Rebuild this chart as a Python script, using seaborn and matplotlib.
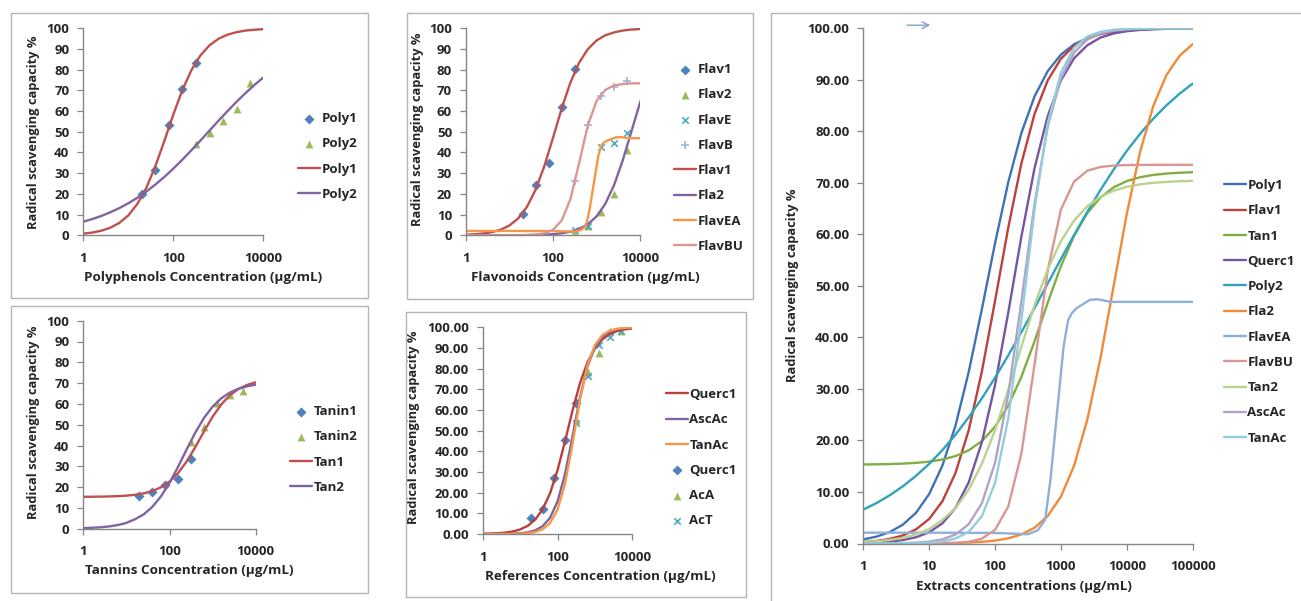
import numpy as np
import pandas as pd
import seaborn as sns
import matplotlib.pyplot as plt
from matplotlib.patches import Rectangle
from matplotlib.ticker import FixedLocator, NullLocator, StrMethodFormatter

sns.set_theme(style="white")
plt.rcParams['font.family'] = ['Open Sans', 'DejaVu Sans']
plt.rcParams['font.weight'] = 'bold'
plt.rcParams['text.color'] = '#262626'

# ---- fitted curves (concentration in ug/mL) ----
conc = [1, 1.585, 2.512, 3.981, 6.31, 10, 15.85, 25.12, 39.81, 63.1, 100, 158.5, 251.2,
        398.1, 631, 1000, 1585, 2512, 3981, 6310, 10000, 15850, 25120, 39810, 63100, 100000]
poly1_fit = [0.80, 1.33, 2.21, 3.65, 5.96, 9.60, 15.1, 22.9, 33.3, 45.5, 58.3, 70.1, 79.7,
             86.8, 91.7, 94.9, 96.9, 98.1, 98.9, 99.3, 99.6, 99.75, 99.85, 99.9, 99.95, 99.97]
flav1_fit = [0.28, 0.50, 0.88, 1.56, 2.74, 4.77, 8.18, 13.7, 22.0, 33.4, 47.1, 61.3, 73.8,
             83.4, 89.9, 94.1, 96.6, 98.0, 98.9, 99.4, 99.65, 99.8, 99.9, 99.94, 99.97, 99.98]
tan1_fit = [15.34, 15.37, 15.42, 15.51, 15.65, 15.89, 16.30, 16.97, 18.09, 19.88, 22.66, 26.76, 32.37,
            39.27, 46.75, 53.84, 59.73, 64.14, 67.16, 69.13, 70.35, 71.09, 71.54, 71.81, 71.97, 72.06]
querc1_fit = [0.11, 0.20, 0.37, 0.67, 1.21, 2.18, 3.91, 6.89, 11.86, 19.67, 30.8, 44.8, 59.6,
              72.9, 83.0, 89.9, 94.2, 96.7, 98.2, 99.0, 99.44, 99.69, 99.83, 99.9, 99.95, 99.97]
poly2_fit = [6.58, 7.85, 9.35, 11.10, 13.13, 15.46, 18.12, 21.13, 24.49, 28.18, 32.20, 36.50, 41.03,
             45.71, 50.48, 55.23, 59.88, 64.37, 68.62, 72.58, 76.21, 79.50, 82.44, 85.03, 87.30, 89.27]
fla2_fit = [0.0, 0.0, 0.01, 0.01, 0.02, 0.03, 0.06, 0.10, 0.18, 0.32, 0.56, 1.00, 1.75,
            3.07, 5.34, 9.11, 15.13, 24.03, 35.99, 50.0, 64.01, 75.95, 84.87, 90.89, 94.66, 96.93]
flavbu_fit = [0.0, 0.0, 0.0, 0.0, 0.0, 0.01, 0.04, 0.12, 0.33, 0.94, 2.66, 7.17, 17.47,
              34.80, 53.05, 64.83, 70.25, 72.34, 73.09, 73.36, 73.45, 73.48, 73.5, 73.5, 73.5, 73.5]
tan2_fit = [0.27, 0.43, 0.69, 1.10, 1.76, 2.80, 4.56, 6.86, 10.46, 15.47, 22.00, 29.81, 38.20,
            46.26, 53.23, 58.70, 62.69, 65.45, 67.29, 68.47, 69.23, 69.71, 70.01, 70.19, 70.31, 70.38]
ascac_fit = [0.01, 0.02, 0.04, 0.08, 0.17, 0.37, 0.80, 1.74, 3.74, 7.83, 15.67, 28.90, 47.06,
             66.05, 80.97, 90.30, 95.32, 97.81, 98.98, 99.53, 99.79, 99.9, 99.96, 99.98, 99.99, 100.0]
tanac_fit = [0.0, 0.01, 0.01, 0.03, 0.07, 0.17, 0.40, 0.96, 2.27, 5.28, 11.79, 24.28, 43.48,
             64.85, 81.57, 91.39, 96.22, 98.39, 99.32, 99.72, 99.88, 99.95, 99.98, 99.99, 100.0, 100.0]
# FlavEA has a very steep step, read on its own points
conc_ea = [1, 10, 100, 200, 316, 447, 575, 692, 871, 1096, 1288, 1479, 1738, 2754, 3631, 5623, 10000, 100000]
flavea_fit = [2.1, 2.1, 2.05, 1.9, 1.8, 2.6, 4.6, 12.3, 25.3, 38.2, 43.4, 44.8, 45.7, 47.3, 47.4, 46.9, 46.9, 46.9]

# ---- measured points ----
conc_low = [20, 40, 80, 160, 320]
conc_high = [320, 640, 1280, 2560, 5120]
poly1_pts = [19.8, 31.4, 53.5, 70.5, 83.1]
poly2_pts = [44.1, 49.6, 55.4, 61.2, 73.8]
flav1_pts = [10.5, 24.3, 35.1, 61.8, 80.2]
flav2_pts = [1.0, 4.5, 11.4, 19.8, 41.2]
flave_pts = [2.6, 4.5, 42.8, 44.8, 49.6]
flavb_pts = [26.0, 53.3, 67.3, 71.5, 74.7]
tanin1_pts = [15.7, 17.5, 21.0, 23.9, 33.7]
tanin2_pts = [41.5, 49.0, 60.3, 64.3, 66.2]
querc1_pts = [7.6, 12.1, 27.3, 45.5, 63.5]
aca_pts = [55.0, 78.5, 87.7, 98.2, 98.2]
act_pts = [53.9, 76.5, 91.5, 95.5, 98.4]

W, H = 1301, 601
FS = 9.5
GREY = '#868686'

fig = plt.figure(figsize=(W / 100, H / 100), dpi=100)


def px_axes(x0, y0, x1, y1):
    return fig.add_axes([x0 / W, 1 - y1 / H, (x1 - x0) / W, (y1 - y0) / H])


def frame(x0, y0, x1, y1):
    fig.add_artist(Rectangle((x0 / W, 1 - y1 / H), (x1 - x0) / W, (y1 - y0) / H,
                             transform=fig.transFigure, fill=False, ec='#B4B4B4', lw=1.0))


def style(ax, xticks, ylabels_fmt, xlabel, xl_pos, yl_pos):
    ax.set_xscale('log')
    ax.set_xlim(xticks[0], xticks[-1])
    ax.set_ylim(0, 100)
    ax.xaxis.set_major_locator(FixedLocator(xticks))
    ax.xaxis.set_minor_locator(NullLocator())
    ax.set_xticklabels([str(t) for t in xticks])
    ax.set_yticks(range(0, 101, 10))
    ax.yaxis.set_major_formatter(StrMethodFormatter(ylabels_fmt))
    for s in ['top', 'right']:
        ax.spines[s].set_visible(False)
    for s in ['left', 'bottom']:
        ax.spines[s].set_color(GREY)
        ax.spines[s].set_linewidth(1.0)
    ax.tick_params(axis='both', which='major', direction='out', length=4, width=0.9,
                   color=GREY, labelsize=FS, labelcolor='#262626', pad=6, bottom=True, left=True)
    ax.tick_params(axis='x', pad=8)
    for lab in ax.get_xticklabels() + ax.get_yticklabels():
        lab.set_fontweight('bold')
    ax.set_xlabel(xlabel, fontsize=9.7, fontweight='bold')
    ax.set_ylabel('Radical scavenging capacity %', fontsize=9.3, fontweight='bold')
    ax.xaxis.set_label_coords(*xl_pos)
    ax.yaxis.set_label_coords(*yl_pos)
    ax.xaxis.label.set_va('center')
    ax.yaxis.label.set_va('center')
    ax.patch.set_alpha(0)


def curve(ax, x, y, color, label):
    sns.lineplot(x=x, y=y, ax=ax, color=color, lw=1.7, sort=False, estimator=None, label=label)


def points(ax, x, y, marker, color, label, s=26):
    if marker in ('x', '+'):
        sns.scatterplot(x=x, y=y, ax=ax, marker=marker, color=color, s=s, linewidth=1.2, label=label)
    else:
        sns.scatterplot(x=x, y=y, ax=ax, marker=marker, color=color, s=s, linewidth=0, label=label)


def legend(ax, lx, ty):
    ax.legend(loc='upper left', bbox_to_anchor=(lx / W, 1 - ty / H), bbox_transform=fig.transFigure,
              frameon=False, borderpad=0, borderaxespad=0, handlelength=1.65, handletextpad=0.12,
              labelspacing=0.93, prop={'weight': 'bold', 'size': FS})


BLUE_M, GREEN_M, CYAN_M, PLUS_M = '#4F81BD', '#9BBB59', '#4BACC6', '#9DB4DD'
RED, PURPLE, ORANGE, PINK = '#C0504D', '#8064A2', '#F79646', '#D99694'

x4 = [1, 100, 10000]

# ---- panel A: polyphenols ----
frame(11, 13, 368, 298)
axA = px_axes(83.3, 28.3, 263.3, 235.3)
style(axA, x4, '{x:.0f}', 'Polyphenols Concentration (µg/mL)', (0.668, -0.206), (-0.274, 0.499))
points(axA, conc_low, poly1_pts, 'D', BLUE_M, 'Poly1')
points(axA, conc_high, poly2_pts, '^', GREEN_M, 'Poly2', s=32)
curve(axA, conc, poly1_fit, RED, 'Poly1')
curve(axA, conc, poly2_fit, PURPLE, 'Poly2')
legend(axA, 298, 112)

# ---- panel B: flavonoids ----
frame(407, 13, 753, 299)
axB = px_axes(466, 28.3, 640, 235.3)
style(axB, x4, '{x:.0f}', 'Flavonoids Concentration (µg/mL)', (0.684, -0.206), (-0.276, 0.514))
points(axB, conc_low, flav1_pts, 'D', BLUE_M, 'Flav1')
points(axB, conc_high, flav2_pts, '^', GREEN_M, 'Flav2', s=32)
points(axB, conc_high, flave_pts, 'x', CYAN_M, 'FlavE', s=22)
points(axB, conc_high, flavb_pts, '+', PLUS_M, 'FlavB', s=30)
curve(axB, conc, flav1_fit, RED, 'Flav1')
curve(axB, conc, fla2_fit, PURPLE, 'Fla2')
curve(axB, conc_ea, flavea_fit, ORANGE, 'FlavEA')
curve(axB, conc, flavbu_fit, PINK, 'FlavBU')
legend(axB, 674, 63)

# ---- panel C: tannins ----
frame(11, 306, 368, 593)
axC = px_axes(83.3, 320.7, 255.7, 528.7)
style(axC, x4, '{x:.0f}', 'Tannins Concentration (µg/mL)', (0.613, -0.202), (-0.288, 0.514))
points(axC, conc_low, tanin1_pts, 'D', BLUE_M, 'Tanin1')
points(axC, conc_high, tanin2_pts, '^', GREEN_M, 'Tanin2', s=32)
curve(axC, conc, tan1_fit, RED, 'Tan1')
curve(axC, conc, tan2_fit, PURPLE, 'Tan2')
legend(axC, 290, 405)

# ---- panel D: references ----
frame(406, 312, 746, 597)
axD = px_axes(482.7, 327.3, 632.3, 534)
style(axD, x4, '{x:.2f}', 'References Concentration (µg/mL)', (0.784, -0.208), (-0.461, 0.516))
curve(axD, conc, querc1_fit, '#B8403C', 'Querc1')
curve(axD, conc, ascac_fit, PURPLE, 'AscAc')
curve(axD, conc, tanac_fit, ORANGE, 'TanAc')
points(axD, conc_low, querc1_pts, 'D', BLUE_M, 'Querc1')
points(axD, conc_high, aca_pts, '^', GREEN_M, 'AcA', s=32)
points(axD, conc_high, act_pts, 'x', CYAN_M, 'AcT', s=22)
legend(axD, 666, 388)

# ---- panel E: all extracts ----
frame(771, 13, 1310, 610)
axE = px_axes(863.3, 28.3, 1192.7, 543.5)
style(axE, [1, 10, 100, 1000, 10000, 100000], '{x:.2f}', 'Extracts concentrations (µg/mL)',
      (0.488, -0.0835), (-0.2155, 0.502))
curve(axE, conc, poly1_fit, '#3F72B5', 'Poly1')
curve(axE, conc, flav1_fit, '#BE403D', 'Flav1')
curve(axE, conc, tan1_fit, '#82AD42', 'Tan1')
curve(axE, conc, querc1_fit, '#7556A0', 'Querc1')
curve(axE, conc, poly2_fit, '#31A2BD', 'Poly2')
curve(axE, conc, fla2_fit, '#F18A38', 'Fla2')
curve(axE, conc_ea, flavea_fit, '#8FAEDA', 'FlavEA')
curve(axE, conc, flavbu_fit, '#D99694', 'FlavBU')
curve(axE, conc, tan2_fit, '#B9D38E', 'Tan2')
curve(axE, conc, ascac_fit, '#B3A2C7', 'AscAc')
curve(axE, conc, tanac_fit, '#93CDDD', 'TanAc')
legend(axE, 1224, 179)
axE.annotate('', xy=(0.212, 1.006), xytext=(0.124, 1.006), xycoords='axes fraction',
             arrowprops=dict(arrowstyle='->', color='#7FA3D6', lw=1.0))

fig.savefig('out.png', dpi=100)
